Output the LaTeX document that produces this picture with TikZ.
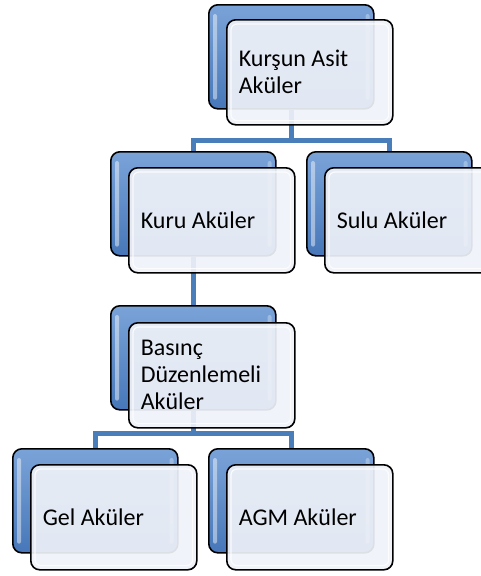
\documentclass[tikz,border=0pt]{standalone}
\usepackage{fontspec}
\setmainfont{Carlito}
\usetikzlibrary{backgrounds}
\definecolor{conn}{HTML}{4A7EBB}
\definecolor{backtop}{HTML}{7AA3D8}
\definecolor{backbot}{HTML}{4777B9}
\definecolor{frontfill}{HTML}{EFF2F8}
\tikzset{
 conline/.style={draw=conn, line width=5pt},
 backbox/.style={draw=black, line width=1.6pt, rounded corners=9pt, top color=backtop, bottom color=backbot, minimum width=165pt, minimum height=104pt, anchor=north west, inner sep=0pt},
 frontbox/.style={draw=black, line width=1.6pt, rounded corners=9pt, fill=frontfill, fill opacity=0.92, text opacity=1, minimum height=105pt, text width=142pt, inner xsep=12pt, inner ysep=0pt, align=flush left, anchor=north west, font=\fontsize{24pt}{27pt}\selectfont},
 hilite/.style={fill=white, opacity=0.45, rounded corners=2pt},
 bevel/.style={draw=white, line width=1.2pt, rounded corners=6pt, opacity=0.8},
}
\begin{document}
\begin{tikzpicture}[x=1pt,y=-1pt]
\useasboundingbox (0,0) rectangle (481,576);
% back boxes
\node[backbox] (topB) at (208,4) {};
\node[backbox] (kuruB) at (110,151) {};
\node[backbox] (suluB) at (306,151) {};
\node[backbox] (basB) at (110,305) {};
\node[backbox] (gelB) at (12,448) {};
\node[backbox] (agmB) at (208,448) {};
\foreach \n in {topB,kuruB,suluB,basB,gelB,agmB}{
  \fill[hilite] ([shift={(5pt,-10pt)}]\n.north west) rectangle ([shift={(9pt,10pt)}]\n.south west);
  \fill[hilite,opacity=0.3] ([shift={(-9pt,-10pt)}]\n.north east) rectangle ([shift={(-5pt,10pt)}]\n.south east);
}
% front boxes
\node[frontbox] (topF) at (226,19) {Kurşun Asit\\Aküler};
\node[frontbox] (kuruF) at (128,167) {Kuru Aküler};
\node[frontbox] (suluF) at (324,167) {Sulu Aküler};
\node[frontbox] (basF) at (128,322) {Basınç\\Düzenlemeli\\Aküler};
\node[frontbox] (gelF) at (30,464) {Gel Aküler};
\node[frontbox] (agmF) at (226,464) {AGM Aküler};
\foreach \n in {topF,kuruF,suluF,basF,gelF,agmF}{
  \draw[bevel] ([shift={(5pt,-5pt)}]\n.north west) rectangle ([shift={(-5pt,5pt)}]\n.south east);
}
% connectors
\coordinate (j1) at (290,140);
\coordinate (j2) at (192,433);
\begin{pgfonlayer}{background}
\draw[conline] (topB.south) -- (topB.south |- j1);
\draw[conline] (kuruB.north) -- (kuruB.north |- j1) -- (suluB.north |- j1) -- (suluB.north);
\draw[conline] (kuruB.south) -- (basB.north);
\draw[conline] (basB.south) -- (basB.south |- j2);
\draw[conline] (gelB.north) -- (gelB.north |- j2) -- (agmB.north |- j2) -- (agmB.north);
\end{pgfonlayer}
\end{tikzpicture}
\end{document}
